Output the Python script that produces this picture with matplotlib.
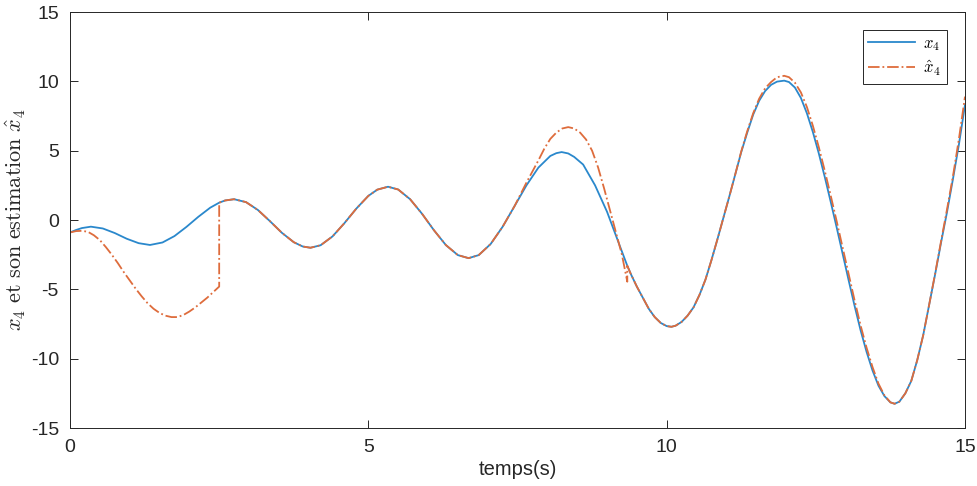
import matplotlib
matplotlib.use("Agg")
import matplotlib.pyplot as plt

plt.rcParams['font.family'] = ['Liberation Sans', 'DejaVu Sans']
plt.rcParams['mathtext.fontset'] = 'cm'
plt.rcParams['axes.unicode_minus'] = False

# x4 (blue)
t_x4 = [0.0, 0.1, 0.2, 0.35, 0.55, 0.75, 0.95, 1.15, 1.34,
        1.55, 1.75, 1.95, 2.15, 2.35, 2.5, 2.6, 2.75,
        2.95, 3.15, 3.35, 3.55, 3.75, 3.9, 4.03,
        4.2, 4.4, 4.6, 4.8, 5.0, 5.15, 5.33,
        5.5, 5.7, 5.9, 6.1, 6.3, 6.5, 6.68,
        6.85, 7.05, 7.25, 7.45, 7.65, 7.85, 8.05, 8.15, 8.24,
        8.35, 8.45, 8.6, 8.8, 9.0, 9.2, 9.34, 9.4, 9.5, 9.6, 9.7, 9.8, 9.9, 10.0, 10.08,
        10.15, 10.25, 10.35, 10.45, 10.55, 10.65, 10.75, 10.85, 10.95, 11.05,
        11.15, 11.25, 11.35, 11.45, 11.55, 11.65, 11.75, 11.85, 11.97,
        12.05, 12.15, 12.25, 12.35, 12.45, 12.55, 12.65, 12.75, 12.85, 12.95,
        13.05, 13.15, 13.25, 13.35, 13.45, 13.55, 13.65, 13.75, 13.82,
        13.9, 14.0, 14.1, 14.2, 14.3, 14.4, 14.5, 14.6, 14.7, 14.8, 14.9, 15.0]
x4 = [-0.9, -0.72, -0.58, -0.48, -0.61, -0.94, -1.35, -1.67, -1.8,
      -1.62, -1.16, -0.5, 0.23, 0.89, 1.25, 1.41, 1.5,
      1.29, 0.72, -0.08, -0.92, -1.6, -1.91, -2.0,
      -1.82, -1.18, -0.22, 0.83, 1.74, 2.19, 2.4,
      2.2, 1.5, 0.45, -0.74, -1.81, -2.53, -2.75,
      -2.53, -1.73, -0.49, 1.0, 2.5, 3.78, 4.62, 4.82, 4.9,
      4.8, 4.55, 4.0, 2.5, 0.6, -1.7, -3.3, -3.9, -4.8, -5.6, -6.4, -7.0, -7.42, -7.65, -7.7,
      -7.62, -7.35, -6.9, -6.3, -5.4, -4.3, -2.9, -1.4, 0.15, 1.7,
      3.3, 4.9, 6.3, 7.6, 8.6, 9.3, 9.75, 9.98, 10.05,
      9.95, 9.55, 8.8, 7.7, 6.35, 4.8, 3.1, 1.3, -0.55, -2.45,
      -4.35, -6.2, -7.95, -9.5, -10.85, -11.95, -12.7, -13.15, -13.25,
      -13.1, -12.5, -11.6, -10.1, -8.3, -6.1, -3.9, -1.6, 0.6, 3.0, 5.5, 8.3]

# estimate of x4 (orange, dash-dot)
t_x4h = [0.0, 0.1, 0.2, 0.3, 0.4, 0.5, 0.6, 0.7, 0.8, 0.9, 1.0,
         1.1, 1.2, 1.3, 1.4, 1.5, 1.6, 1.7, 1.8, 1.9, 2.0,
         2.1, 2.2, 2.3, 2.4, 2.5, 2.5, 2.6, 2.75,
         2.95, 3.15, 3.35, 3.55, 3.75, 3.9, 4.03,
         4.2, 4.4, 4.6, 4.8, 5.0, 5.15, 5.33,
         5.5, 5.7, 5.9, 6.1, 6.3, 6.5, 6.68,
         6.85, 7.05, 7.25, 7.45, 7.65, 7.85, 7.95, 8.05, 8.15, 8.25, 8.35,
         8.45, 8.55, 8.65, 8.75, 8.85, 8.95, 9.05, 9.15, 9.25, 9.34, 9.34,
         9.4, 9.5, 9.6, 9.7, 9.8, 9.9, 10.0, 10.08,
         10.15, 10.25, 10.35, 10.45, 10.55, 10.65, 10.75, 10.85, 10.95, 11.05,
         11.15, 11.25, 11.35, 11.45, 11.55, 11.65, 11.75, 11.85, 11.97,
         12.05, 12.15, 12.25, 12.35, 12.45, 12.55, 12.65, 12.75, 12.85, 12.95,
         13.05, 13.15, 13.25, 13.35, 13.45, 13.55, 13.65, 13.75, 13.82,
         13.9, 14.0, 14.1, 14.2, 14.3, 14.4, 14.5, 14.6, 14.7, 14.8, 14.9, 15.0]
x4_hat = [-0.9, -0.8, -0.78, -0.85, -1.1, -1.45, -1.95, -2.5, -3.1, -3.75, -4.35,
          -4.95, -5.5, -6.0, -6.4, -6.7, -6.9, -7.0, -7.0, -6.85, -6.6,
          -6.3, -5.95, -5.6, -5.2, -4.8, 1.25, 1.41, 1.5,
          1.29, 0.72, -0.08, -0.92, -1.6, -1.91, -2.0,
          -1.82, -1.18, -0.22, 0.83, 1.74, 2.19, 2.4,
          2.2, 1.5, 0.45, -0.74, -1.81, -2.53, -2.75,
          -2.53, -1.73, -0.49, 1.0, 2.7, 4.3, 5.15, 5.85, 6.3, 6.6, 6.7,
          6.6, 6.3, 5.8, 5.0, 3.8, 2.3, 0.7, -0.9, -2.5, -4.45, -3.3,
          -3.9, -4.8, -5.6, -6.4, -7.0, -7.42, -7.65, -7.7,
          -7.62, -7.35, -6.9, -6.3, -5.4, -4.3, -2.9, -1.4, 0.15, 1.7,
          3.3, 4.95, 6.4, 7.7, 8.75, 9.5, 9.95, 10.3, 10.4,
          10.3, 9.9, 9.2, 8.15, 6.8, 5.25, 3.55, 1.75, -0.1, -2.0,
          -3.9, -5.8, -7.6, -9.2, -10.6, -11.8, -12.65, -13.15, -13.25,
          -13.1, -12.5, -11.6, -10.1, -8.3, -6.1, -3.85, -1.5, 0.8, 3.2, 5.9, 8.9]

fig = plt.figure(figsize=(9.78, 4.86), dpi=100)
ax = fig.add_axes([0.0716, 0.1193, 0.9151, 0.856])

ax.plot(t_x4, x4, color='#2A88CC', linewidth=1.3, label=r'$x_4$')
ax.plot(t_x4h, x4_hat, color='#DE6C3C', linewidth=1.3, linestyle='-.',
        label=r'$\hat{x}_4$')

ax.set_xlim(0, 15)
ax.set_ylim(-15, 15)
ax.set_xticks([0, 5, 10, 15])
ax.set_yticks([-15, -10, -5, 0, 5, 10, 15])
ax.tick_params(direction='in', top=True, right=True, labelsize=14,
               colors='#262626', length=6, width=0.7)
ax.tick_params(axis='y', pad=8)
ax.tick_params(axis='x', pad=8)
for s in ax.spines.values():
    s.set_color('#262626')
    s.set_linewidth(0.7)

ax.set_xlabel('temps(s)', fontsize=14.5, color='#262626', labelpad=3)
ax.set_ylabel(r'$x_4\ \mathrm{et\ son\ estimation}\ \hat{x}_4$', fontsize=16,
              color='#262626', labelpad=2)

leg = ax.legend(loc='upper right', bbox_to_anchor=(0.98, 0.957), fontsize=12,
                fancybox=False, framealpha=1, edgecolor='#262626',
                handlelength=2.8, handletextpad=0.5, borderpad=0.35,
                labelspacing=0.35, borderaxespad=0)
leg.get_frame().set_linewidth(0.7)

fig.savefig('out.png', dpi=100)
